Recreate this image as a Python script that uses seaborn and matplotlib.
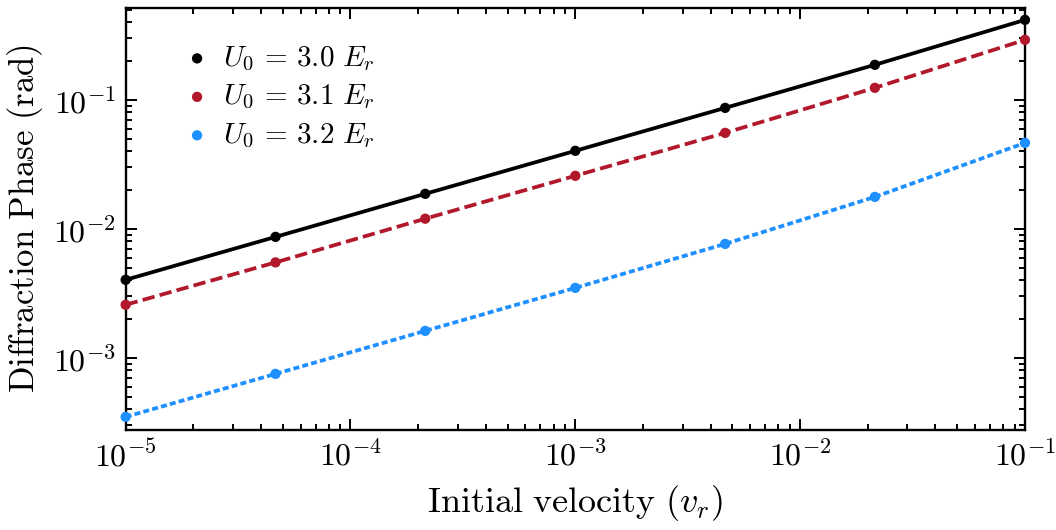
import numpy as np
import pandas as pd
import seaborn as sns
import matplotlib
matplotlib.use('Agg')
import matplotlib.pyplot as plt

velocity = [1e-5, 4.64e-5, 2.15e-4, 1e-3, 4.64e-3, 2.15e-2, 1e-1]
phase_30 = [4.03e-3, 8.67e-3, 1.87e-2, 4.03e-2, 8.67e-2, 1.87e-1, 4.17e-1]
phase_31 = [2.58e-3, 5.5e-3, 1.20e-2, 2.58e-2, 5.55e-2, 1.24e-1, 2.92e-1]
phase_32 = [3.49e-4, 7.52e-4, 1.62e-3, 3.49e-3, 7.65e-3, 1.77e-2, 4.64e-2]
labels = [r'$U_0 \,=\, 3.0\ E_r$', r'$U_0 \,=\, 3.1\ E_r$', r'$U_0 \,=\, 3.2\ E_r$']

sns.set_style('ticks')
plt.rcParams['mathtext.fontset'] = 'cm'
plt.rcParams['font.family'] = 'serif'
plt.rcParams['font.serif'] = ['cmr10', 'DejaVu Serif']
plt.rcParams['axes.formatter.use_mathtext'] = True
plt.rcParams['axes.unicode_minus'] = False
for k in ['text.color', 'axes.labelcolor', 'xtick.color', 'ytick.color', 'axes.edgecolor']:
    plt.rcParams[k] = 'black'

fig, ax = plt.subplots(figsize=(10.56, 5.30), dpi=100)
fig.subplots_adjust(left=0.119, right=0.9706, top=0.985, bottom=0.189)

series = [phase_30, phase_31, phase_32]
colors = ['black', '#b2182b', '#1e90ff']
styles = ['-', (0, (3.3, 1.4)), (0, (1.6, 0.85))]
for ys, c, ls, lab in zip(series, colors, styles, labels):
    df = pd.DataFrame({'v': velocity, 'phi': ys})
    sns.lineplot(data=df, x='v', y='phi', color=c, linewidth=2.7, linestyle=ls, ax=ax, legend=False)
    sns.scatterplot(data=df, x='v', y='phi', color=c, s=55, edgecolor='none', ax=ax, label=lab, zorder=3, clip_on=False)

ax.set_xscale('log')
ax.set_yscale('log')
ax.set_xlim(1e-5, 1e-1)
ax.set_ylim(2.77e-4, 0.516)
ax.set_xlabel(r'$\mathrm{Initial\ velocity}\ (v_r)$', fontsize=26, labelpad=8)
ax.set_ylabel(r'$\mathrm{Diffraction\ Phase\ (rad)}$', fontsize=25, labelpad=6)
ax.tick_params(which='both', direction='in', top=True, right=True, labelsize=23, width=1.4)
ax.tick_params(which='major', length=8, pad=7)
ax.tick_params(which='minor', length=4)
for s in ax.spines.values():
    s.set_linewidth(1.7)
ax.legend(loc='upper left', bbox_to_anchor=(0.034, 0.975), frameon=False, fontsize=21,
          handlelength=1.0, handletextpad=0.4, labelspacing=0.35, markerscale=1.0)

plt.savefig('out.png', dpi=100)
